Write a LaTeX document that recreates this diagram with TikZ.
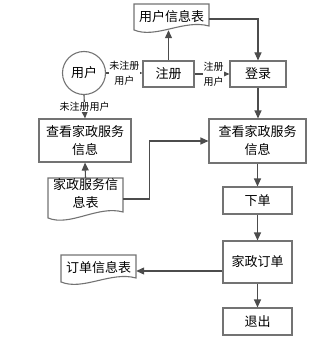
\documentclass[tikz,border=0pt]{standalone}
\usepackage{fontspec}
\setmainfont{Noto Sans CJK SC}
\usetikzlibrary{arrows.meta}
\tikzset{
  boxline/.style={draw=black!55, line width=1.1pt},
  stepbox/.style={boxline, rectangle, inner sep=0pt, align=center, font=\fontsize{13pt}{18pt}\selectfont},
  doctext/.style={rectangle, inner sep=0pt, align=center, minimum width=75pt, font=\fontsize{13pt}{18pt}\selectfont},
  docline/.style={draw=black!55, line width=1.1pt, fill=white},
  conn/.style={draw=black!70, line width=1.1pt},
  arr/.style={conn, -{Triangle[length=8pt,width=7pt]}},
  lbl/.style={fill=white, inner sep=0.5pt, align=center, font=\fontsize{10pt}{15pt}\selectfont},
}
\newcommand\mydoc[5]{%
  \draw[docline] (#1,#2) -- (#3,#2) -- (#3,#5) .. controls ({#3-25},{#5-7}) and ({#1+22},{#4+9}) .. (#1,#4) -- cycle;}
\begin{document}
\begin{tikzpicture}[x=1pt,y=-1pt]
\useasboundingbox (0,0) rectangle (326,342);
% document outlines
\mydoc{134}{4}{209}{30}{26}
\mydoc{48}{178}{123}{218}{212}
\mydoc{61}{255}{136}{282}{278}
% nodes
\node[doctext, minimum height=26pt] (udoc) at (171.5,17) {用户信息表};
\node[doctext, minimum height=32pt] (jdoc) at (85.5,194) {家政服务信\\息表};
\node[doctext, minimum height=26pt] (odoc) at (98.5,268) {订单信息表};
\node[boxline, circle, minimum size=43pt, inner sep=0pt, font=\fontsize{13pt}{18pt}\selectfont] (user) at (84,73) {用户};
\node[stepbox, minimum width=51pt, minimum height=26pt] (zc) at (168.5,74) {注册};
\node[stepbox, minimum width=56pt, minimum height=26pt] (dl) at (258,74) {登录};
\node[stepbox, minimum width=92pt, minimum height=43pt] (lc) at (85,140.5) {查看家政服务\\信息};
\node[stepbox, minimum width=97pt, minimum height=44pt] (rc) at (257.5,141) {查看家政服务\\信息};
\node[stepbox, minimum width=69pt, minimum height=27pt] (xd) at (257.5,200.5) {下单};
\node[stepbox, minimum width=69pt, minimum height=42pt] (jz) at (257.5,262) {家政订单};
\node[stepbox, minimum width=69pt, minimum height=27pt] (tc) at (257.5,321.5) {退出};
% connectors
\draw[arr] (user.east) -- (user.east -| zc.west) node[lbl, pos=0.5] {未注册\\用户};
\draw[arr] (zc.east) -- (dl.west) node[lbl, pos=0.55] {注册\\用户};
\draw[arr] (user.south) -- (lc.north) node[lbl, pos=0.5] {未注册用户};
\draw[arr] (zc.north) -- (zc.north |- udoc.south);
\draw[arr] ([yshift=-2pt]udoc.east) -| (dl.north);
\draw[arr] (jdoc.north) -- (lc.south);
\draw[arr] ([yshift=-5pt]jdoc.east) -- ([yshift=-5pt,xshift=26pt]jdoc.east) |- (rc.west);
\draw[arr] (dl.south) -- (dl.south |- rc.north);
\draw[arr] (rc.south) -- (xd.north);
\draw[arr] (xd.south) -- (jz.north);
\draw[arr] (jz.south) -- (tc.north);
\draw[arr] ([yshift=-9pt]jz.west) -- ([yshift=-9pt]jz.west -| odoc.east);
\end{tikzpicture}
\end{document}
